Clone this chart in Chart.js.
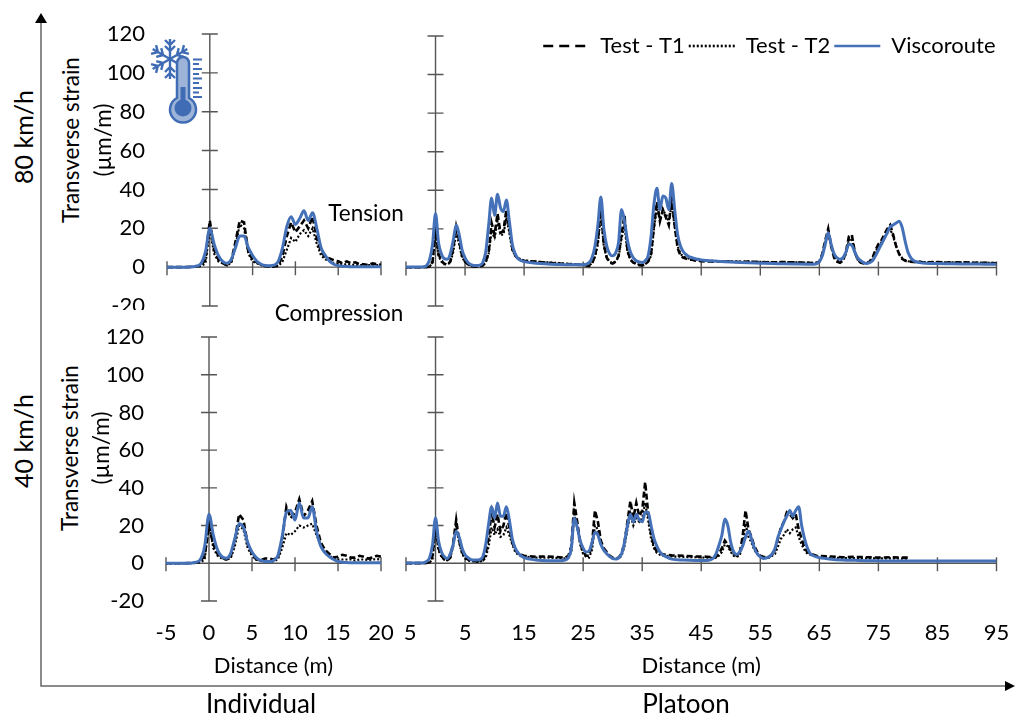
<!DOCTYPE html>
<html lang="en">
<head>
  <meta charset="UTF-8" />
  <title>Transverse strain</title>
  <script src="https://cdn.jsdelivr.net/npm/chart.js"></script>
  <style>
    body { margin: 0; background: #fff; font-family: Lato, sans-serif; color: #000; }
    #page { position: relative; width: 1016px; height: 714px; overflow: hidden; }
    canvas { position: absolute; }
    svg { position: absolute; left: 0; top: 0; }
    .txt { position: absolute; white-space: nowrap; transform: translate(-50%, -50%); line-height: 1; }
    .rot { transform: translate(-50%, -50%) rotate(-90deg); }
  </style>
</head>
<body>
<div id="page">
  <svg width="1016" height="714">
    <path d="M41 20 V686 H1008" fill="none" stroke="#666" stroke-width="1.5" />
    <path d="M41 13 L35 23 H47 Z M1015 686 L1005 681 V691 Z" fill="#000" />
    <g stroke="#3f6cb4" stroke-width="2.4" fill="none">
      <g id="arm">
        <path d="M170 59 V39 M170 45 L165 40 M170 45 L175 40 M170 51 L165 46 M170 51 L175 46" />
      </g>
      <use href="#arm" transform="rotate(60 170 59)" />
      <use href="#arm" transform="rotate(120 170 59)" />
      <use href="#arm" transform="rotate(180 170 59)" />
      <use href="#arm" transform="rotate(240 170 59)" />
      <use href="#arm" transform="rotate(300 170 59)" />
    </g>
    <path d="M177 63 a6 6 0 0 1 12 0 V98 a13 13 0 1 1 -12 0 Z" fill="#9db3d8" stroke="#3f6cb4" stroke-width="2.5" />
    <circle cx="183" cy="108" r="8.5" fill="#3f6cb4" />
    <rect x="180.5" y="87" width="5" height="16" fill="#3f6cb4" />
    <path d="M193 59.5 H202 M193 64 H199 M193 69 H202 M193 74 H199 M193 78.5 H202 M193 83 H199 M193 88 H202 M193 92.5 H199 M193 97 H202" stroke="#3f6cb4" stroke-width="1.8" />
  </svg>

  <canvas id="ind80" width="300" height="330" style="left:100px;top:0;clip-path:inset(0 0 20px 0)"></canvas>
  <canvas id="pla80" width="631" height="330" style="left:385px;top:0;clip-path:inset(0 0 20px 18px)"></canvas>
  <canvas id="ind40" width="300" height="404" style="left:100px;top:310px"></canvas>
  <canvas id="pla40" width="631" height="404" style="left:385px;top:310px;clip-path:inset(0 0 0 18px)"></canvas>

  <div class="txt rot" style="left:23px;top:137px;font-size:25px">80 km/h</div>
  <div class="txt rot" style="left:23px;top:441px;font-size:25px">40 km/h</div>
  <div class="txt rot" style="left:71px;top:140px;font-size:22.5px">Transverse strain</div>
  <div class="txt rot" style="left:103px;top:140px;font-size:22.5px">(µm/m)</div>
  <div class="txt rot" style="left:70px;top:448px;font-size:22.5px">Transverse strain</div>
  <div class="txt rot" style="left:101px;top:448px;font-size:22.5px">(µm/m)</div>
  <div class="txt" style="left:366px;top:213px;font-size:22.5px">Tension</div>
  <div class="txt" style="left:339px;top:313px;font-size:22.5px">Compression</div>
  <div class="txt" style="left:261px;top:703px;font-size:26px">Individual</div>
  <div class="txt" style="left:686px;top:703px;font-size:26px">Platoon</div>
</div>

<script>
// x grid shared by the individual panels
const indX = [-5,-4.5,-4,-3.5,-3, -2.5,-2,-1.5,-1,-.5, 0,.5,1,1.5,2, 2.5,3,3.5,4,4.5, 5,5.5,6,6.5,7,
  7.5,8,8.5,9,9.5, 10,10.5,11,11.5,12, 12.5,13,13.5,14,14.5, 15,15.5,16,16.5,17, 17.5,18,18.5,19,19.5, 20];

const ind80T1 = [0,0,0,0,0, .1,.2,.3,1,4, 24,9,4,2,1, 3,13,24,23,8, 4,2.5,1.2,.5,.4,
  .4,.8,6,16,23, 18,21,24,20,26, 15,8,5,4.5,3.5, 3,2,3,2,2.5, 1.5,1.5,1,2,1.5, 1.2];
const ind80T2 = [0,0,0,0,0, .1,.1,.2,.5,2, 20,7,3,2,1, 2,11,22,20,7, 3,2,1,.5,.3,
  .3,.5,3,9,15, 13,17,19,16,20, 12,6,4,3,2, 2,1.5,1.5,1.2,1.2, 1,1,1,1,1, 1];
const ind80Visco = [0,0,0,0,0, 0,.2,.6,2,8, 20,12,6,3,2, 4,10,16,16,10, 6,3,1.5,.8,.7,
  1,3,10,21,26, 22,25,29,24,28, 20,10,6,3,1.5, .8,.5,.3,.2,.2, .2,.2,.2,.2,.2, .2];

const ind40T1 = [0,0,0,0,0, .1,.2,.3,1.2,4, 20,10,5,3,2, 3,12,26,23,10, 5,2,1.5,2.5,2.5,
  2,3,12,30,24, 27,34,25,28,33, 20,11,7,5,3, 3.5,4.5,4,3,3, 4,3.5,2.5,3,4, 3.5];
const ind40T2 = [0,0,0,0,0, .1,.1,.2,.5,2, 22,8,4,2.5,2, 2.5,9,20,18,8, 4,2,1.2,1,1,
  1,2,8,16,15, 17,20,19,20,21, 15,10,6,4,2.5, 2,2,2,2,1.5, 2,2,1.8,2,2.2, 2];
const ind40Visco = [0,0,0,0,0, 0,.2,.6,2,9, 26,15,7,3.5,2.7, 5,13,21,19,11, 6,3,1.5,1,1,
  1.5,4,14,27,28, 23,32,24,24,30, 17,9,5.5,3.5,2, 1,.6,.4,.3,.3, .3,.3,.3,.3,.3, .3];

// platoon 80 km/h
const pla80X = [-5,-3,
  -2,-1.5,-1,-.5,0, .5,1,1.5,2,2.5, 3,3.5,4,4.5,5, 5.5,6,6.5,7,7.5, 8,8.5,9,9.5,10, 10.5,11,11.5,12,12.5, 13,13.5,14,14.5,15,
  17,19,21,23,25,
  26,26.5,27,27.5,28, 28.5,29,29.5,30,30.5, 31,31.5,32,32.5,33, 33.5,34,34.5,35,35.5, 36,36.5,37,37.5,38, 38.5,39,39.5,40,40.5, 41,41.5,42,42.5,43, 43.5,44,44.5,45,
  47,49,51,53,55,57,59,61,63,
  64,64.5,65,65.5,66, 66.5,67,67.5,68,68.5, 69,69.5,70,70.5,71, 71.5,72,72.5,73,73.5, 74,74.5,75,75.5,76, 76.5,77,77.5,78,78.5, 79,79.5,80,80.5,81, 81.5,82,82.5,83,
  85,87,89,91,93,95];
const pla80T1 = [.1,.1,
  .1,.2,.4,3,21, 7,3.5,1.8,1.5,3, 10,21,14,6,3, 1.5,.8,.5,.4,.6, 1,3,8,23,17, 28,18,19,30,20, 10,6,4.5,4,3.5,
  3,2.4,2,1.6,1.2,
  .8,2,6,14,32, 12,5,2.5,2,3, 6,17,27,9,4, 2.5,1.8,1.2,1,1.5, 3,7,22,34,24, 30,26,22,36,22, 10,6,5,4.5,4, 4,3.5,3.6,3.2,
  3,3.2,2.8,3,2.7,2.6,2.8,2.6,2.4,
  2.2,2.2,3,7,14, 20,11,5,3,2.4, 3.5,8,16,17,8, 4,2.5,2,2,3, 5,9,12,14,17, 20,22,17,11,7, 4.5,3.5,3,3,2.8, 2.6,3,2.7,2.6,
  2.8,2.5,2.7,2.4,2.4,2.2];
const pla80T2 = [.1,.1,
  .1,.2,.5,2.5,18, 6,3,2,1.5,2.5, 8,18,12,5,3, 1.5,.8,.6,.5,.6, 1,2.5,7,19,15, 24,17,17,26,18, 9,6,5,4,3.6,
  3,2.6,2.2,1.8,1.4,
  1,2.2,5.5,12,28, 11,5,3,2.2,3, 5.5,15,22,8,4, 2.6,2,1.4,1.2,1.6, 3,6,20,31,25, 29,28,24,33,21, 11,7,5.5,5,4.5, 4.4,4,3.8,3.5,
  3.4,3.2,3.1,3,2.9,2.8,2.8,2.6,2.5,
  2.4,2.5,3,6,13, 18,11,6,3.5,2.8, 3.5,7,14,15,8, 4,2.8,2.2,2.2,3, 4.5,8,11,13,15, 18,20,16,11,7, 5,3.8,3.2,3,3, 2.9,2.8,2.8,2.7,
  2.7,2.6,2.6,2.5,2.4,2.4];
const pla80Visco = [.2,.2,
  .3,1,4,12,28, 13,7,4.5,4.3,7, 14,22,17,9,5, 2.5,1.5,1,1,1.2, 2.5,8,22,36,27, 38,31,29,35,24, 12,7,4.5,3.5,3,
  2.2,1.8,1.5,1.4,1.4,
  2.5,5,11,22,36.5, 20,11,7,6,7.5, 13,30,24,14,8, 5,3.5,2.8,2.6,3.5, 6,16,33,41,30, 37,36,30,43.5,30, 17,11,8,6.5,5.5, 5,4.5,4.2,3.9,
  3.3,3,2.7,2.4,2.2,2,1.9,1.8,1.7,
  1.7,1.9,3,6,12, 18,12,7,5,4.3, 5,8,12,11.5,8, 5,3.5,2.5,2,2.5, 3.5,6,9,12,15, 18,21,22,23,24, 21,14,8,5,3.5, 2.8,2.5,2.3,2.2,
  2,1.9,1.8,1.8,1.7,1.7];

// platoon 40 km/h, the two tests stop at about 80 m
const pla40X = [-5,-3,
  -2,-1.5,-1,-.5,0, .5,1,1.5,2,2.5, 3,3.5,4,4.5,5, 5.5,6,6.5,7,7.5, 8,8.5,9,9.5,10, 10.5,11,11.5,12,12.5, 13,13.5,14,14.5,15,
  17,19,21,
  22,22.5,23,23.5,24, 24.5,25,25.5,26,26.5, 27,27.5,28,28.5,29, 29.5,30,30.5,31,31.5, 32,32.5,33,33.5,34, 34.5,35,35.5,36,36.5, 37,37.5,38,38.5,39, 39.5,40,
  42,44,46,
  47,47.5,48,48.5,49, 49.5,50,50.5,51,51.5, 52,52.5,53,53.5,54, 54.5,55,55.5,56,56.5, 57,57.5,58,58.5,59, 59.5,60,60.5,61,61.5, 62,62.5,63,63.5,64, 64.5,65,
  67,69,71,73,75,77,79,80,82,85,90,95];
const pla40T1 = [.1,.1,
  .1,.2,.6,4,22, 8,4,2,1.5,3, 11,23,12,6,3, 2,1.5,1.2,1,1.2, 1.5,5,14,27,19, 26,17,20,27,19, 11,7,5,4.5,4,
  3.5,3.6,3.2,
  3,4,9,32,22, 11,6,4,4,10, 28,22,12,8,6, 4,3,2.5,3,5, 11,22,33,24,32, 25,28,43,27,16, 9,6,5,4.8,4.5, 4.4,4.2,
  4,3.6,3.5,
  3.2,3.5,5,8,12, 10,7,5,4,5, 14,28,18,14,9, 6,4,3.5,3.2,3.5, 4.5,7,13,19,22, 27,26,24,26,18, 13,8,6,5,4.5, 4,3.8,
  3.6,3.2,3.4,3.2,3,3.2,3,3,null,null,null,null];
const pla40T2 = [.1,.1,
  .1,.2,.4,2,19, 7,3.5,2,1.6,3, 9,20,11,5,2.5, 1.5,1.2,1,.8,1, 1.2,3,9,19,15, 18,14,15,19,15, 10,6,4.5,3.8,3.5,
  3,3,2.8,
  2.6,3,6,26,19, 10,5,3.5,3,7, 20,18,10,7,5, 3.5,2.6,2.2,2.5,4, 9,18,26,20,24, 22,24,32,23,13, 8,5.5,4.5,4,4, 3.8,3.6,
  3.4,3.2,3,
  2.8,3,4,6,10, 9,6,4,3.5,4, 10,21,14,11,7, 5,3.5,3,3,3, 4,5,9,13,15, 18,16,18,19,14, 10,7,5,4.5,4, 3.5,3.4,
  3,2.8,2.8,2.6,2.6,2.6,2.5,2.5,null,null,null,null];
const pla40Visco = [.2,.1,
  .3,1,3,10,24, 12,6,3.5,2.6,5, 10,17,14,8,4.5, 3,2,1.7,1.7,2, 3.5,10,21,30,24, 32,25,25,30,23, 13,8,5.5,4,3,
  1.8,1.4,1.4,
  1.8,3,8,24,19, 12,8,6,6.5,11, 16.5,15,10,7,5, 3.5,2.5,2.3,2.8,5, 11,20,26,22,26, 23,22,27,27,20, 13,9,6,4.5,3.5, 2.8,2.2,
  1.7,1.5,1.5,
  2.6,5,9.6,15,23.5, 20,11,6,4.7,6, 9,14,17,13,8, 5,3.5,2.6,2.8,3.5, 5,8,14,18,22, 25,28,25,28,30, 20,13,8,5,4, 3.4,3,
  2.2,1.8,1.6,1.4,1.3,1.2,1.2,1.2,1.2,1.2,1.2,1.2];

const seriesNames = ['Test - T1', 'Test - T2', 'Viscoroute'];
const yLimits = [-20, 120];
const FONT = 'Lato, sans-serif';
const AXIS = '#555';

const pts = (xs, ys) => xs.map((x, i) => ({ x: x, y: ys[i] }));

function makeDatasets(xs, t1, t2, visco) {
  return [
    { label: seriesNames[0], data: pts(xs, t1), borderColor: '#000', borderWidth: 2.6, borderDash: [6, 3], order: 1 },
    { label: seriesNames[1], data: pts(xs, t2), borderColor: '#000', borderWidth: 2.2, borderDash: [2, 2], order: 2 },
    { label: seriesNames[2], data: pts(xs, visco), borderColor: '#4471b8', borderWidth: 3, cubicInterpolationMode: 'monotone', order: 0 }
  ];
}

// axes cross at zero with ticks on both sides, as in the spreadsheet original
const crossAxes = {
  id: 'crossAxes',
  beforeDatasetsDraw(chart) {
    const { x, y } = chart.scales;
    const ctx = chart.ctx;
    const x0 = x.getPixelForValue(0), y0 = y.getPixelForValue(0);
    ctx.save();
    ctx.strokeStyle = AXIS;
    ctx.lineWidth = 1.4;
    ctx.beginPath();
    ctx.moveTo(x.left, y0); ctx.lineTo(x.right, y0);
    ctx.moveTo(x0, y.top); ctx.lineTo(x0, y.bottom);
    x.ticks.forEach(t => {
      const p = x.getPixelForValue(t.value);
      ctx.moveTo(p, y0 - 6); ctx.lineTo(p, y0 + 8);
    });
    y.ticks.forEach(t => {
      const p = y.getPixelForValue(t.value);
      ctx.moveTo(x0 - 8, p); ctx.lineTo(x0 + 8, p);
    });
    ctx.stroke();
    ctx.restore();
  }
};

// the legend sits inside the plot, not above it
const legendDown = {
  id: 'legendDown',
  afterLayout(chart) {
    chart.legend.top += 31;
    chart.legend.bottom += 31;
    chart.legend.left += 3;
    chart.legend.right += 3;
  }
};

// point style would drop the dash, so put it back for the legend
const legendDash = [[10, 6], [2, 2], []];
function legendItems(chart) {
  return Chart.defaults.plugins.legend.labels.generateLabels(chart).map(item => {
    item.lineDash = legendDash[item.datasetIndex];
    item.lineWidth = 2.6;
    return item;
  });
}

function panel(id, datasets, o) {
  new Chart(document.getElementById(id), {
    type: 'line',
    data: { datasets: datasets },
    plugins: o.legend ? [crossAxes, legendDown] : [crossAxes],
    options: {
      responsive: false,
      animation: false,
      layout: { padding: o.padding, autoPadding: false },
      elements: { point: { radius: 0 }, line: { tension: 0 } },
      plugins: {
        tooltip: { enabled: false },
        legend: {
          display: !!o.legend,
          align: 'end',
          labels: {
            usePointStyle: true,
            pointStyle: 'line',
            pointStyleWidth: 46,
            padding: 4,
            color: '#000',
            font: { family: FONT, size: 22 },
            generateLabels: legendItems,
            sort: (a, b) => a.datasetIndex - b.datasetIndex
          }
        }
      },
      scales: {
        x: {
          type: 'linear',
          min: o.xRange[0],
          max: o.xRange[1],
          afterFit: s => { s.height = o.xHeight; s.paddingLeft = 0; s.paddingRight = 0; },
          border: { display: false },
          grid: { display: false },
          ticks: {
            display: o.xLabels,
            stepSize: o.xStep,
            autoSkip: false,
            maxRotation: 0,
            padding: 11,
            color: '#000',
            font: { family: FONT, size: 22 }
          },
          title: {
            display: o.xLabels,
            text: 'Distance (m)',
            color: '#000',
            padding: 0,
            font: { family: FONT, size: 22 }
          }
        },
        y: {
          min: yLimits[0],
          max: yLimits[1],
          display: o.yLabels,
          afterFit: s => { s.width = o.yWidth; s.paddingTop = 0; s.paddingBottom = 0; },
          border: { display: false },
          grid: { display: false },
          ticks: {
            stepSize: 20,
            padding: 14,
            color: '#000',
            font: { family: FONT, size: 22 }
          }
        }
      }
    }
  });
}

panel('ind80', makeDatasets(indX, ind80T1, ind80T2, ind80Visco), {
  padding: { top: 34, right: 19, bottom: 0, left: 0 },
  xRange: [-5, 20], xStep: 5, xHeight: 24, xLabels: false, yLabels: true, yWidth: 67
});
panel('pla80', makeDatasets(pla80X, pla80T1, pla80T2, pla80Visco), {
  padding: { top: 0, right: 19.5, bottom: 0, left: 21 },
  xRange: [-5, 95], xStep: 10, xHeight: 24, xLabels: false, yLabels: false, yWidth: 0, legend: true
});
panel('ind40', makeDatasets(indX, ind40T1, ind40T2, ind40Visco), {
  padding: { top: 27, right: 19, bottom: 35, left: 0 },
  xRange: [-5, 20], xStep: 5, xHeight: 78, xLabels: true, yLabels: true, yWidth: 66
});
panel('pla40', makeDatasets(pla40X, pla40T1, pla40T2, pla40Visco), {
  padding: { top: 27, right: 19.5, bottom: 35, left: 21 },
  xRange: [-5, 95], xStep: 10, xHeight: 78, xLabels: true, yLabels: false, yWidth: 0
});
</script>
</body>
</html>
